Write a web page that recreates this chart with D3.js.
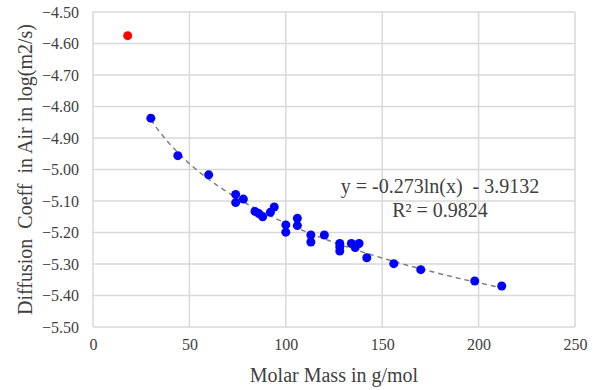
<!DOCTYPE html>
<html>
<head>
<meta charset="utf-8">
<script src="https://cdn.jsdelivr.net/npm/d3@7"></script>
<style>
  body { margin: 0; background: #fff; }
  text { font-family: "Liberation Serif", "Times New Roman", serif; fill: #404040; }
</style>
</head>
<body>
<div id="chart"></div>
<script>
// red point (outlier, not in fit)
let redMass = [18]
let redCoeff = [-4.575]

// blue series
let blueMass = [30, 44, 60, 74, 74, 78, 84, 86, 88, 92, 94, 100, 100, 106, 106, 113, 113, 120,
    128, 128, 128, 134, 136, 138, 142, 156, 170, 198, 212]
let blueCoeff = [-4.837, -4.956, -5.017, -5.079, -5.105, -5.094, -5.133, -5.140, -5.150, -5.136, -5.119,
    -5.176, -5.199, -5.155, -5.178, -5.208, -5.230, -5.208,
    -5.235, -5.246, -5.259, -5.235, -5.248, -5.235, -5.280, -5.299, -5.318, -5.354, -5.370]

// trendline shown on chart
let trendA = -0.273, trendB = -3.9132
let trendText = ["y = -0.273ln(x)  - 3.9132", "R² = 0.9824"]

let xTicks = [0, 50, 100, 150, 200, 250]
let yTicks = [-5.5, -5.4, -5.3, -5.2, -5.1, -5.0, -4.9, -4.8, -4.7, -4.6, -4.5]

let W = 597, H = 390
let margin = { top: 12, right: 22, bottom: 63, left: 93 }
let width = W - margin.left - margin.right,
    height = H - margin.top - margin.bottom

let svg = d3.select("#chart").append("svg")
    .attr("width", W)
    .attr("height", H)

let g = svg.append("g")
    .attr("transform", "translate(" + margin.left + "," + margin.top + ")")

let x = d3.scaleLinear().domain([0, 250]).range([0, width])
let y = d3.scaleLinear().domain([-5.5, -4.5]).range([height, 0])

//网格线
g.selectAll(".hgrid")
    .data(yTicks)
    .enter()
    .append("line")
    .attr("class", "hgrid")
    .attr("x1", 0).attr("x2", width)
    .attr("y1", d => y(d)).attr("y2", d => y(d))
    .attr("stroke", "#d9d9d9")
    .attr("stroke-width", 1.5)

g.selectAll(".vgrid")
    .data(xTicks)
    .enter()
    .append("line")
    .attr("class", "vgrid")
    .attr("y1", 0).attr("y2", height)
    .attr("x1", d => x(d)).attr("x2", d => x(d))
    .attr("stroke", "#d9d9d9")
    .attr("stroke-width", 1.5)

//坐标轴
let xAxis = g.append("g")
    .attr("transform", "translate(0," + height + ")")
    .call(d3.axisBottom(x).tickValues(xTicks).tickSize(0).tickPadding(12))
xAxis.select(".domain").remove()
xAxis.selectAll("text")
    .style("font-size", "16px")
    .style("font-family", "Liberation Serif, serif")
    .attr("fill", "#404040")

let yAxis = g.append("g")
    .call(d3.axisLeft(y).tickValues(yTicks).tickSize(0).tickPadding(14).tickFormat(d3.format(".2f")))
yAxis.select(".domain").remove()
yAxis.selectAll("text")
    .style("font-size", "16px")
    .style("font-family", "Liberation Serif, serif")
    .attr("fill", "#404040")

//趋势线
let lo = d3.min(blueMass), hi = d3.max(blueMass)
let curve = d3.range(lo, hi + 0.5, 1).map(m => [m, trendA * Math.log(m) + trendB])
g.append("path")
    .datum(curve)
    .attr("d", d3.line().x(d => x(d[0])).y(d => y(d[1])))
    .attr("fill", "none")
    .attr("stroke", "#808080")
    .attr("stroke-width", 1.5)
    .attr("stroke-dasharray", "5,4")

//数据点
g.selectAll(".blue")
    .data(blueMass)
    .enter()
    .append("circle")
    .attr("class", "blue")
    .attr("cx", d => x(d))
    .attr("cy", (d, i) => y(blueCoeff[i]))
    .attr("r", 4.5)
    .attr("fill", "#0000ff")

g.selectAll(".red")
    .data(redMass)
    .enter()
    .append("circle")
    .attr("class", "red")
    .attr("cx", d => x(d))
    .attr("cy", (d, i) => y(redCoeff[i]))
    .attr("r", 4.5)
    .attr("fill", "#ff0000")

//公式
g.selectAll(".eq")
    .data(trendText)
    .enter()
    .append("text")
    .attr("class", "eq")
    .attr("x", x(180))
    .attr("y", (d, i) => y(-5.0) + 23 + i * 24)
    .attr("text-anchor", "middle")
    .style("font-size", "20px")
    .style("white-space", "pre")
    .text(d => d)

//轴标题
svg.append("text")
    .attr("x", margin.left + width / 2)
    .attr("y", 382)
    .attr("text-anchor", "middle")
    .style("font-size", "20px")
    .text("Molar Mass in g/mol")

svg.append("text")
    .attr("transform", "translate(32," + (margin.top + height / 2) + ") rotate(-90)")
    .attr("text-anchor", "middle")
    .style("font-size", "20px")
    .style("white-space", "pre")
    .text("Diffusion  Coeff  in Air in log(m2/s)")
</script>
</body>
</html>
